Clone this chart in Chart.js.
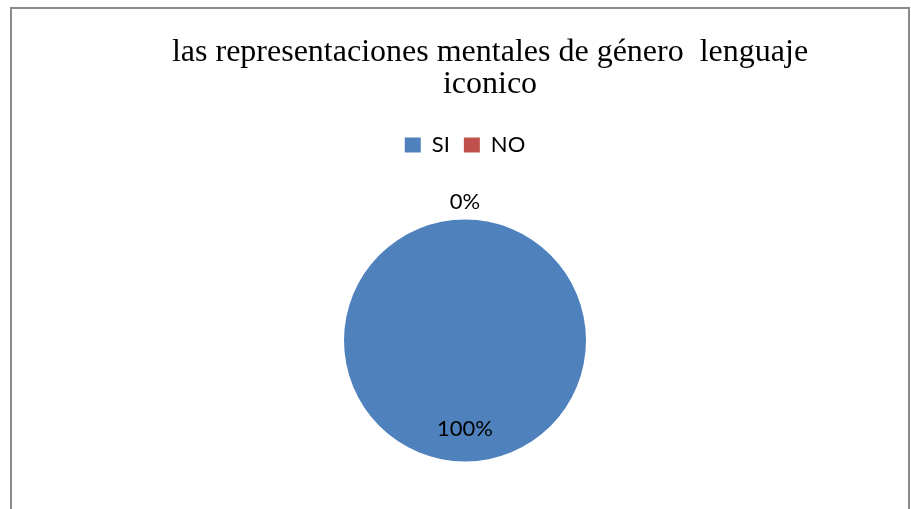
<!DOCTYPE html>
<html lang="es">
<head>
    <meta charset="UTF-8">
    <title>las representaciones mentales de género lenguaje iconico</title>
    <script src="https://cdn.jsdelivr.net/npm/chart.js@4.4.1/dist/chart.umd.min.js"></script>
    <style>
        html, body {
            margin: 0;
            padding: 0;
            background: #fff;
            overflow: hidden;
        }
        .frame {
            position: absolute;
            left: 10px;
            top: 7px;
            width: 900px;
            height: 510px;
            box-sizing: border-box;
            border: 2px solid #8a8a8a;
        }
        .frame canvas {
            display: block;
        }
    </style>
</head>
<body>
    <div class="frame">
        <canvas id="pieChart" width="896" height="506"></canvas>
    </div>

    <script>
        const titleLines = ['las representaciones mentales de género  lenguaje', 'iconico'];
        const categories = ['SI', 'NO'];
        const values = [100, 0];
        const percentLabels = ['100%', '0%'];
        const colors = ['#4F81BD', '#C0504D'];

        // titulo dibujado a mano: en el original no esta centrado sobre la torta
        const titlePlugin = {
            id: 'titleLines',
            afterDraw(chart) {
                const ctx = chart.ctx;
                ctx.save();
                ctx.fillStyle = '#000';
                ctx.font = '32px "Liberation Serif", "Times New Roman", serif';
                ctx.textAlign = 'center';
                ctx.textBaseline = 'alphabetic';
                titleLines.forEach((line, i) => {
                    ctx.fillText(line, 478, 52 + i * 32);
                });
                ctx.restore();
            }
        };

        // etiquetas de porcentaje: fuera si el sector esta vacio, dentro si no
        const percentPlugin = {
            id: 'percentLabels',
            afterDatasetsDraw(chart) {
                const ctx = chart.ctx;
                const meta = chart.getDatasetMeta(0);
                ctx.save();
                ctx.fillStyle = '#000';
                ctx.font = '22px Lato, "Open Sans", sans-serif';
                ctx.textAlign = 'center';
                ctx.textBaseline = 'middle';
                meta.data.forEach((arc, i) => {
                    const p = arc.getProps(['x', 'y', 'startAngle', 'endAngle', 'outerRadius'], true);
                    const mid = (p.startAngle + p.endAngle) / 2;
                    const dist = values[i] === 0 ? p.outerRadius + 18 : p.outerRadius * 0.727;
                    ctx.fillText(percentLabels[i], p.x + Math.cos(mid) * dist, p.y + Math.sin(mid) * dist);
                });
                ctx.restore();
            }
        };

        new Chart(document.getElementById('pieChart'), {
            type: 'pie',
            data: {
                labels: categories,
                datasets: [{
                    data: values,
                    backgroundColor: colors,
                    borderWidth: 0,
                    hoverBorderWidth: 0,
                    hoverOffset: 0,
                    offset: 0
                }]
            },
            options: {
                responsive: false,
                animation: false,
                events: [],
                layout: {
                    padding: { top: 111, left: 332, right: 322, bottom: 0 }
                },
                plugins: {
                    title: { display: false },
                    tooltip: { enabled: false },
                    legend: {
                        display: true,
                        position: 'top',
                        labels: {
                            color: '#000',
                            font: { family: 'Lato, "Open Sans", sans-serif', size: 22 },
                            boxWidth: 16,
                            boxHeight: 15,
                            padding: 14
                        }
                    }
                }
            },
            plugins: [titlePlugin, percentPlugin]
        });
    </script>
</body>
</html>
